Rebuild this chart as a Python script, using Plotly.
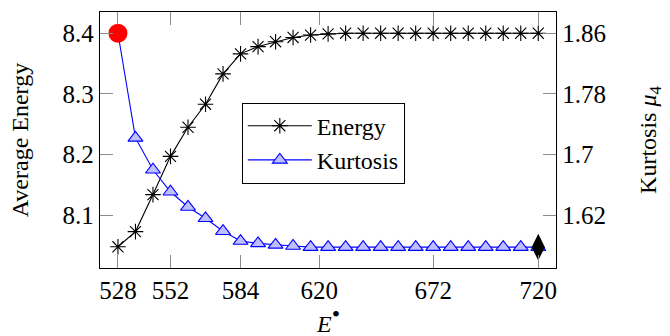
import plotly.graph_objects as go

# Sweep values of E• (x axis)
e_bullet = [528, 536, 544, 552, 560, 568, 576, 584, 592, 600, 608, 616, 624,
            632, 640, 648, 656, 664, 672, 680, 688, 696, 704, 712, 720]

# Average energy (left axis)
energy = [8.048, 8.073, 8.134, 8.197, 8.245, 8.283, 8.333, 8.366, 8.378,
          8.386, 8.393, 8.397, 8.399, 8.4, 8.4, 8.4, 8.4, 8.4, 8.4, 8.4,
          8.4, 8.4, 8.4, 8.4, 8.4]

# Kurtosis mu_4 (right axis)
kurtosis = [1.86, 1.722, 1.680, 1.651, 1.631, 1.616, 1.599, 1.586, 1.583,
            1.581, 1.5795, 1.578, 1.578, 1.578, 1.578, 1.578, 1.578, 1.578,
            1.578, 1.578, 1.578, 1.578, 1.578, 1.578, 1.578]

x_ticks = [528, 552, 584, 620, 672, 720]
left_ticks = [8.1, 8.2, 8.3, 8.4]
right_ticks = [1.62, 1.7, 1.78, 1.86]
right_tick_text = ["1.62", "1.7", "1.78", "1.86"]

SERIF = "Liberation Serif"
TICK_GRAY = "#8c8c8c"

fig = go.Figure()

fig.add_trace(go.Scatter(
    x=e_bullet, y=energy, name="Energy", mode="lines+markers",
    line=dict(color="black", width=1.1),
    marker=dict(symbol="asterisk-open", size=13, color="black",
                line=dict(color="black", width=1.1)),
    yaxis="y"))

fig.add_trace(go.Scatter(
    x=e_bullet, y=kurtosis, name="Kurtosis", mode="lines+markers",
    line=dict(color="#0000ff", width=1.1),
    marker=dict(symbol="triangle-up", size=13, color="#bfbfff",
                line=dict(color="#0000ff", width=1.1)),
    yaxis="y2"))

# Highlight the first and last kurtosis samples
fig.add_trace(go.Scatter(
    x=[e_bullet[0]], y=[kurtosis[0]], mode="markers", showlegend=False,
    marker=dict(symbol="circle", size=19, color="#ff0000",
                line=dict(color="#ff0000", width=0)),
    yaxis="y2"))
fig.add_trace(go.Scatter(
    x=[e_bullet[-1]], y=[kurtosis[-1]], mode="markers", showlegend=False,
    marker=dict(symbol="diamond-tall", size=19, color="black",
                line=dict(color="black", width=0)),
    yaxis="y2"))


def axis_style(**extra):
    style = dict(
        showgrid=False, zeroline=False, showline=True, linecolor="black",
        linewidth=1.3, ticks="inside", ticklen=13, tickwidth=1,
        tickcolor=TICK_GRAY,
        tickfont=dict(family=SERIF, size=25, color="black"),
    )
    style.update(extra)
    return style


fig.update_layout(
    width=670, height=336, autosize=False,
    margin=dict(l=100, r=114, t=12, b=68, pad=0),
    paper_bgcolor="white", plot_bgcolor="white",
    font=dict(family=SERIF, size=24, color="black"),
    xaxis=axis_style(range=[519.8, 728.1], tickvals=x_ticks, mirror="ticks"),
    yaxis=axis_style(range=[8.013, 8.435], tickvals=left_ticks, mirror=True),
    yaxis2=axis_style(range=[1.5505, 1.888], tickvals=right_ticks,
                      ticktext=right_tick_text, overlaying="y",
                      side="right"),
    legend=dict(x=0.311, y=0.646, xanchor="left", yanchor="top",
                bgcolor="white", bordercolor="black", borderwidth=1,
                font=dict(family=SERIF, size=24), itemwidth=64,
                tracegroupgap=0),
    showlegend=True,
)

# Axis titles
fig.add_annotation(text="Average Energy", xref="paper", yref="paper",
                   x=-0.175, y=0.5, xanchor="center", yanchor="middle",
                   textangle=-90, showarrow=False,
                   font=dict(family=SERIF, size=24))
fig.add_annotation(text="Kurtosis <i>μ</i><sub>4</sub>", xref="paper",
                   yref="paper", x=1.206, y=0.5, xanchor="center",
                   yanchor="middle", textangle=-90, showarrow=False,
                   font=dict(family=SERIF, size=24))
fig.add_annotation(text="<i>E</i><sup><span style='font-size:24px'>•</span></sup>",
                   xref="paper", yref="paper",
                   x=0.5, y=-0.2, xanchor="center", yanchor="middle",
                   showarrow=False, font=dict(family=SERIF, size=24))

fig.write_html("out.html")
